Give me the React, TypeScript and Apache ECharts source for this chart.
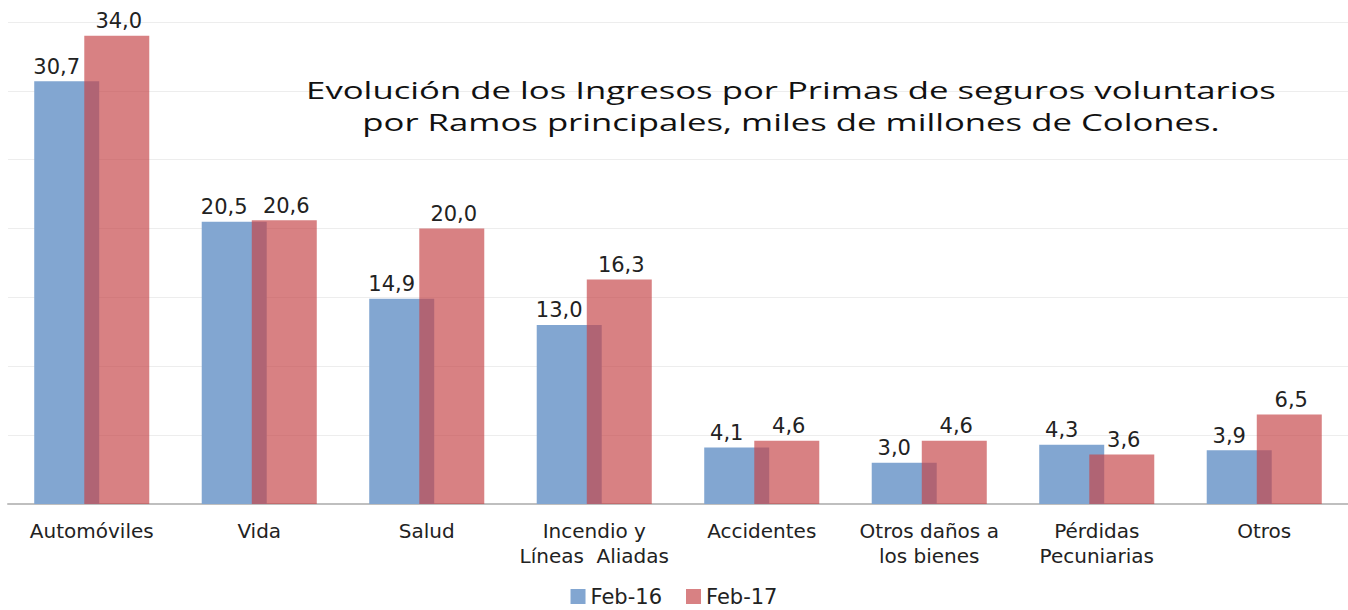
import React, { useEffect, useRef } from "react";
import * as echarts from "echarts";

const categories = [
  "Automóviles",
  "Vida",
  "Salud",
  "Incendio y\nLíneas  Aliadas",
  "Accidentes",
  "Otros daños a\nlos bienes",
  "Pérdidas\nPecuniarias",
  "Otros",
];
const feb16 = [30.7, 20.5, 14.9, 13.0, 4.1, 3.0, 4.3, 3.9];
const feb17 = [34.0, 20.6, 20.0, 16.3, 4.6, 4.6, 3.6, 6.5];
const seriesNames = ["Feb-16", "Feb-17"];
const titleLines = [
  "Evolución de los Ingresos por Primas de seguros voluntarios",
  "por Ramos principales, miles de millones de Colones.",
];

const fmt = (p: any) => Number(p.value).toFixed(1).replace(".", ",");

export default function App() {
  const ref = useRef<HTMLDivElement>(null);
  useEffect(() => {
    if (!ref.current) return;
    const chart = echarts.init(ref.current, undefined, { renderer: "svg" });
    const labelFont = "'DejaVu Sans', Verdana, sans-serif";
    chart.setOption({
      animation: false,
      backgroundColor: "#ffffff",
      graphic: [
        {
          type: "text",
          x: 791,
          y: 74,
          scaleX: 1.51,
          z: 10,
          style: {
            text: titleLines.join("\n"),
            x: 0,
            y: 0,
            textAlign: "center",
            textVerticalAlign: "top",
            fontFamily: "'Open Sans', 'DejaVu Sans', sans-serif",
            fontSize: 23,
            lineHeight: 32,
            fill: "#111111",
          },
        },
      ],
      legend: {
        data: seriesNames,
        bottom: -2,
        left: "center",
        itemWidth: 15,
        itemHeight: 15,
        itemGap: 24,
        icon: "rect",
        textStyle: { fontFamily: labelFont, fontSize: 21, color: "#222" },
      },
      grid: { left: 8, right: 0, top: 22, bottom: 106, containLabel: false },
      xAxis: {
        type: "category",
        data: categories,
        axisTick: { show: false },
        axisLine: { lineStyle: { color: "#BFBFBF", width: 2 } },
        axisLabel: {
          fontFamily: labelFont,
          fontSize: 20,
          color: "#222",
          lineHeight: 25,
          margin: 14,
          interval: 0,
        },
      },
      yAxis: {
        type: "value",
        min: 0,
        max: 35,
        interval: 5,
        axisLabel: { show: false },
        axisLine: { show: false },
        axisTick: { show: false },
        splitLine: { lineStyle: { color: "#EDEDED", width: 1 } },
      },
      series: [
        {
          name: seriesNames[0],
          type: "bar",
          data: feb16,
          barWidth: 65,
          barGap: "-23%",
          itemStyle: { color: "#82A6D1" },
          label: {
            show: true,
            position: "top",
            distance: 4,
            offset: [-10, 0],
            formatter: fmt,
            fontFamily: labelFont,
            fontSize: 21,
            color: "#222",
          },
        },
        {
          name: seriesNames[1],
          type: "bar",
          data: feb17,
          barWidth: 65,
          itemStyle: { color: "rgba(198, 70, 72, 0.68)" },
          label: {
            show: true,
            position: "top",
            distance: 4,
            offset: [2, 0],
            formatter: fmt,
            fontFamily: labelFont,
            fontSize: 21,
            color: "#222",
          },
        },
      ],
    });
    return () => chart.dispose();
  }, []);
  return <div ref={ref} style={{ width: 1348, height: 610, position: "absolute", left: 0, top: 0 }} />;
}
